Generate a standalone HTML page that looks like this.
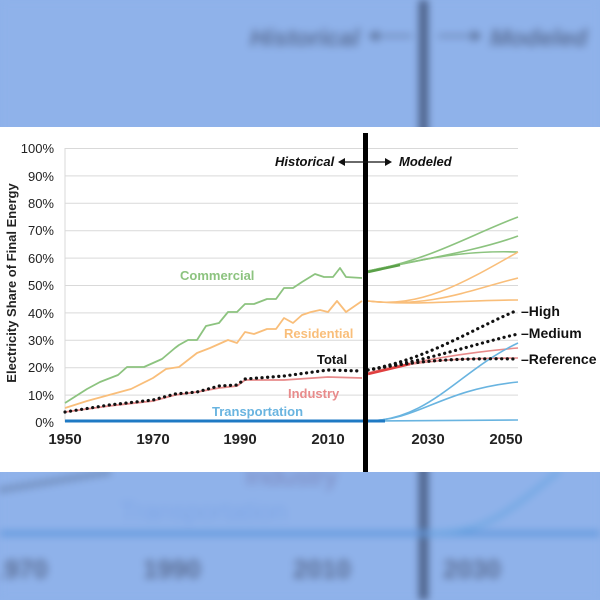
<!DOCTYPE html>
<html><head><style>
html,body{margin:0;padding:0;width:600px;height:600px;overflow:hidden;background:#8fb2ea;font-family:"Liberation Sans",sans-serif}
.bg{position:absolute;left:0;top:0;width:600px;height:600px;filter:blur(4px)}
.panel{position:absolute;left:0;top:127px;width:600px;height:345px;background:#fff}
</style></head><body>
<svg class="bg" width="600" height="600" viewBox="0 0 600 600">
<rect width="600" height="600" fill="#8fb2ea"/>
<rect x="419" y="0" width="9" height="600" fill="#4a5f86"/>
<text x="250" y="46" font-size="24" font-style="italic" font-weight="bold" fill="#5a6f98">Historical</text>
<path d="M372 36 L412 36 M438 36 L478 36" stroke="#5a6f98" stroke-width="2"/>
<path d="M368 36 l10 -6 v12z M482 36 l-10 -6 v12z" fill="#5a6f98"/>
<text x="490" y="46" font-size="24" font-style="italic" font-weight="bold" fill="#5a6f98">Modeled</text>
<rect x="0" y="531" width="600" height="5" fill="#5f97dc"/>
<path d="M430 533 C480 533 500 520 560 470" stroke="#6aa6e2" stroke-width="4" fill="none"/>
<path d="M0 490 L110 472" stroke="#4f6386" stroke-width="5" fill="none" stroke-dasharray="3 3"/>
<text x="120" y="520" font-size="26" fill="#7ea6e6">Transportation</text>
<text x="245" y="485" font-size="26" fill="#7b86bc">Industry</text>
<g font-size="26" font-weight="bold" fill="#5a6d94">
<text x="-10" y="578">1970</text><text x="143" y="578">1990</text><text x="293" y="578">2010</text><text x="443" y="578">2030</text></g>
</svg>
<div class="panel"></div>
<svg style="position:absolute;left:0;top:0" width="600" height="600" viewBox="0 0 600 600" font-family="Liberation Sans, sans-serif">
<g stroke="#d9d9d9" stroke-width="1">
<line x1="65" x2="518" y1="148.5" y2="148.5"/><line x1="65" x2="518" y1="175.9" y2="175.9"/><line x1="65" x2="518" y1="203.3" y2="203.3"/><line x1="65" x2="518" y1="230.7" y2="230.7"/><line x1="65" x2="518" y1="258.1" y2="258.1"/><line x1="65" x2="518" y1="285.5" y2="285.5"/><line x1="65" x2="518" y1="312.9" y2="312.9"/><line x1="65" x2="518" y1="340.3" y2="340.3"/><line x1="65" x2="518" y1="367.7" y2="367.7"/><line x1="65" x2="518" y1="395.1" y2="395.1"/><line x1="65" x2="65" y1="148" y2="422"/>
</g>
<g font-size="13" fill="#222" text-anchor="end">
<text x="54" y="153">100%</text><text x="54" y="181">90%</text><text x="54" y="208">80%</text><text x="54" y="235">70%</text><text x="54" y="263">60%</text><text x="54" y="290">50%</text><text x="54" y="318">40%</text><text x="54" y="345">30%</text><text x="54" y="372">20%</text><text x="54" y="400">10%</text><text x="54" y="427">0%</text>
</g>
<text transform="translate(16,283) rotate(-90)" font-size="13" font-weight="bold" fill="#222" text-anchor="middle">Electricity Share of Final Energy</text>
<g font-size="15" font-weight="bold" fill="#222" text-anchor="middle">
<text x="65" y="444">1950</text><text x="153" y="444">1970</text><text x="240" y="444">1990</text><text x="328" y="444">2010</text><text x="428" y="444">2030</text><text x="506" y="444">2050</text></g>
<g fill="none" stroke-width="1.8" stroke-linejoin="round">
<polyline stroke="#8cc37f" points="65,403 87,389 100,382 118,375 127,367 144,367 162,359 175,348 179,345 188,340 197,340 206,326 219,323 228,312 237,312 245,304 254,304 267,299 276,299 284,288 293,288 302,282 315,274 324,277 333,277 340,268 346,277 362,278"/>
<polyline stroke="#f9be7a" points="65,408 87,401 109,395 131,389 153,378 166,369 179,367 197,353 210,348 228,340 237,343 245,332 254,334 267,329 276,329 284,318 293,323 302,315 311,312 320,310 328,312 337,301 346,312 362,301"/>
<polyline stroke="#e88b8b" points="65,412 109,406 153,401 175,395 197,392 219,388 237,386 245,380 284,380 328,377 362,378"/>
<polyline stroke="#1f7ac4" stroke-width="3" points="65,421 366,421"/>
<g stroke="#8cc37f" stroke-width="1.6"><path d="M368 271 C420 260 460 250 518 252"/><path d="M368 271 C430 258 480 250 518 236"/><path d="M368 271 C430 260 470 235 518 217"/></g>
<path d="M368 272 L400 265" stroke="#5aa048" stroke-width="2.5"/>
<g stroke="#f9be7a" stroke-width="1.6"><path d="M368 301 C420 306 460 300 518 300"/><path d="M368 301 C430 308 470 290 518 278"/><path d="M368 301 C420 308 460 285 518 252"/></g>
<g stroke="#e88b8b" stroke-width="1.6"><path d="M368 373 C420 360 460 358 518 358"/><path d="M368 373 C420 360 470 352 518 348"/></g>
<path d="M368 374 L410 364" stroke="#e04040" stroke-width="2.5"/>
<g stroke="#69b4e0" stroke-width="1.6"><path d="M368 421 L518 420"/><path d="M368 421 C420 420 440 390 518 382"/><path d="M368 421 C430 420 460 370 518 343"/></g>
<polyline stroke="#1f7ac4" stroke-width="3" points="368,421 385,421"/>
<g stroke="#111" stroke-width="3.2" stroke-dasharray="0.1 5.5" stroke-linecap="round">
<polyline points="65,412 109,405 153,400 175,394 197,392 219,386 237,385 245,379 284,376 328,370 362,371"/>
<path d="M368 370 C420 360 460 358 518 359"/><path d="M368 370 C430 360 470 345 518 334"/><path d="M368 370 C430 358 470 330 518 310"/>
</g>
</g>
<rect x="363" y="133" width="5" height="339" fill="#000"/>
<g font-size="13" font-style="italic" font-weight="bold" fill="#111"><text x="275" y="166">Historical</text><text x="399" y="166">Modeled</text></g>
<path d="M340 162 L390 162" stroke="#111" stroke-width="1.2"/><path d="M338 162 l7 -4 v8z M392 162 l-7 -4 v8z" fill="#111"/>
<g font-size="13" font-weight="bold">
<text x="180" y="280" fill="#8cc37f">Commercial</text>
<text x="284" y="338" fill="#f9be7a">Residential</text>
<text x="317" y="364" fill="#111">Total</text>
<text x="288" y="398" fill="#e88b8b">Industry</text>
<text x="212" y="416" fill="#69b4e0">Transportation</text>
</g>
<g font-size="14" font-weight="bold" fill="#111"><text x="521" y="316">–High</text><text x="521" y="338">–Medium</text><text x="521" y="364">–Reference</text></g>
</svg>
</body></html>
